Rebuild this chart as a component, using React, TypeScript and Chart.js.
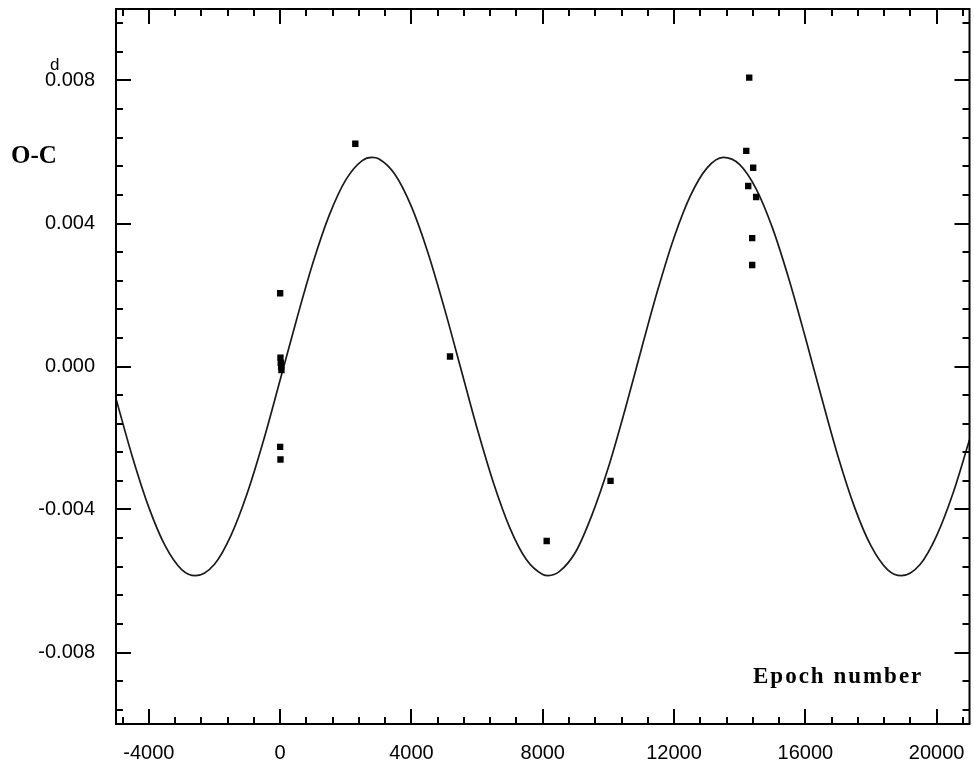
import React, { useEffect, useRef } from 'react';
import { Chart, registerables } from 'chart.js';

Chart.register(...registerables);

// Fitted O-C curve
const curveEpochs = [-5000, -4500, -4000, -3500, -3000, -2575, -2000, -1500, -1000, -500, 0, 500, 1000, 1500, 2000, 2500, 2800, 3000, 3500, 4000, 4500, 5000, 5500, 6000, 6500, 7000, 7500, 8000, 8175, 8500, 9000, 9500, 10000, 10500, 11000, 11500, 12000, 12500, 13000, 13500, 14000, 14500, 15000, 15500, 16000, 16500, 17000, 17500, 18000, 18500, 18925, 19500, 20000, 20500, 21000];
const curveValues = [-0.0009, -0.00253, -0.00394, -0.00502, -0.00568, -0.00585, -0.00553, -0.00473, -0.00354, -0.00205, -0.00038, 0.00131, 0.0029, 0.00424, 0.00522, 0.00576, 0.00585, 0.00581, 0.00537, 0.00447, 0.00319, 0.00164, -0.00004, -0.00173, -0.00326, -0.00452, -0.0054, -0.00582, -0.00585, -0.00574, -0.00519, -0.00415, -0.00282, -0.00123, 0.00047, 0.00213, 0.00361, 0.00478, 0.00555, 0.00585, 0.00565, 0.00497, 0.00387, 0.00244, 0.00081, -0.00089, -0.00253, -0.00394, -0.00502, -0.00568, -0.00585, -0.00553, -0.00473, -0.00354, -0.00205];

// Observed minima
const obsEpochs = [0, 10, 20, 30, 40, 0, 10, 2290, 5175, 8120, 10065, 14290, 14200, 14410, 14260, 14500, 14380, 14380];
const obsValues = [0.00205, 0.00025, 0.0001, 0.0, -0.0001, -0.00225, -0.0026, 0.00623, 0.00028, -0.00488, -0.0032, 0.00808, 0.00603, 0.00556, 0.00505, 0.00474, 0.00359, 0.00284];

const xTickValues = [-4000, 0, 4000, 8000, 12000, 16000, 20000];
const yTickValues = [-0.008, -0.004, 0, 0.004, 0.008];
const xRange = [-5000, 21000];
const yRange = [-0.01, 0.01];

const tickFont = { family: "'Liberation Sans', Arial, sans-serif", size: 20 };

const frameTicks = {
  id: 'frameTicks',
  afterDraw(chart: any) {
    const { ctx, chartArea: a, scales } = chart;
    const sx = scales.x;
    const sy = scales.y;
    ctx.save();
    ctx.strokeStyle = '#000';
    ctx.lineWidth = 2;
    ctx.strokeRect(a.left, a.top, a.right - a.left, a.bottom - a.top);
    const major = 15;
    const minor = 7;
    for (let k = -6; k <= 26; k++) {
      const v = k * 800;
      const px = Math.round(sx.getPixelForValue(v));
      const len = k % 5 === 0 ? major : minor;
      ctx.beginPath();
      ctx.moveTo(px, a.bottom);
      ctx.lineTo(px, a.bottom - len);
      ctx.moveTo(px, a.top);
      ctx.lineTo(px, a.top + len);
      ctx.stroke();
    }
    for (let k = -12; k <= 12; k++) {
      const v = k * 0.0008;
      const py = Math.round(sy.getPixelForValue(v));
      const len = k % 5 === 0 ? major : minor;
      ctx.beginPath();
      ctx.moveTo(a.left, py);
      ctx.lineTo(a.left + len, py);
      ctx.moveTo(a.right, py);
      ctx.lineTo(a.right - len, py);
      ctx.stroke();
    }
    ctx.fillStyle = '#000';
    ctx.textBaseline = 'alphabetic';
    ctx.textAlign = 'left';
    ctx.font = "17px 'Liberation Sans', Arial, sans-serif";
    ctx.fillText('d', 50, 70);
    ctx.font = "bold 25px 'Liberation Serif', 'Times New Roman', serif";
    ctx.fillText('O-C', 11, 163);
    ctx.font = "bold 23px 'Liberation Serif', 'Times New Roman', serif";
    (ctx as any).letterSpacing = '2px';
    ctx.fillText('Epoch number', 753, 683);
    ctx.restore();
  },
};

const zeroPad = (s: any) => {
  s.paddingTop = 0;
  s.paddingBottom = 0;
  s.paddingLeft = 0;
  s.paddingRight = 0;
};

export default function App() {
  const ref = useRef<HTMLCanvasElement | null>(null);
  useEffect(() => {
    if (!ref.current) return;
    const chart = new Chart(ref.current, {
      type: 'scatter',
      data: {
        datasets: [
          {
            label: 'Observed',
            data: obsEpochs.map((e, i) => ({ x: e, y: obsValues[i] })),
            pointStyle: 'rect',
            pointRadius: 4.5,
            backgroundColor: '#000',
            borderColor: '#000',
            borderWidth: 0,
          },
          {
            label: 'Fit',
            data: curveEpochs.map((e, i) => ({ x: e, y: curveValues[i] })),
            showLine: true,
            pointRadius: 0,
            borderColor: '#1a1a1a',
            borderWidth: 1.7,
            cubicInterpolationMode: 'monotone',
            fill: false,
          } as any,
        ],
      },
      options: {
        animation: false,
        responsive: false,
        layout: { padding: { top: 9, right: 2, left: 0, bottom: 0 } },
        plugins: { legend: { display: false }, tooltip: { enabled: false } },
        scales: {
          x: {
            type: 'linear',
            min: xRange[0],
            max: xRange[1],
            grid: { display: false, drawTicks: false },
            border: { display: false },
            afterBuildTicks: (s: any) => {
              s.ticks = xTickValues.map((v) => ({ value: v }));
            },
            afterFit: (s: any) => {
              s.height = 46;
              zeroPad(s);
            },
            ticks: {
              padding: 17,
              color: '#000',
              font: tickFont,
              maxRotation: 0,
              autoSkip: false,
              callback: (v: any) => String(v),
            },
          },
          y: {
            type: 'linear',
            min: yRange[0],
            max: yRange[1],
            grid: { display: false, drawTicks: false },
            border: { display: false },
            afterBuildTicks: (s: any) => {
              s.ticks = yTickValues.map((v) => ({ value: v }));
            },
            afterFit: (s: any) => {
              s.width = 116;
              zeroPad(s);
            },
            ticks: {
              padding: 21,
              color: '#000',
              font: tickFont,
              autoSkip: false,
              callback: (v: any) => Number(v).toFixed(3),
            },
          },
        },
      },
      plugins: [frameTicks],
    });
    return () => chart.destroy();
  }, []);
  return (
    <div style={{ position: 'fixed', left: 0, top: 0, width: 974, height: 770, background: '#fff' }}>
      <canvas ref={ref} width={974} height={770} style={{ display: 'block' }} />
    </div>
  );
}
